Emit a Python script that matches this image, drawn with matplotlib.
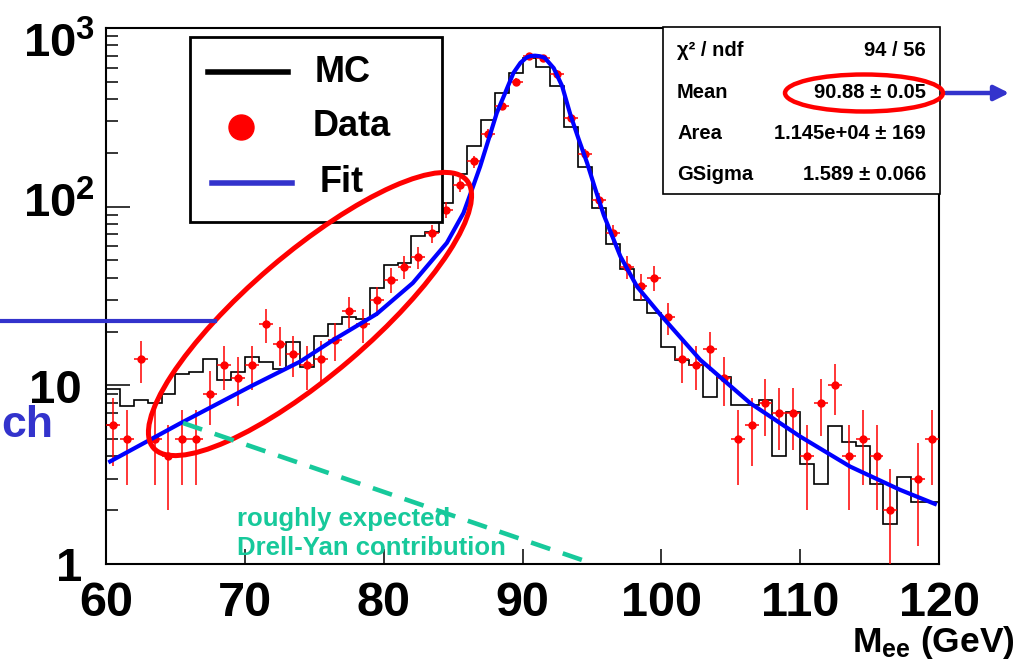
import numpy as np
import matplotlib
matplotlib.use("Agg")
import matplotlib.pyplot as plt
from matplotlib.patches import Rectangle, Ellipse
from matplotlib.lines import Line2D
from matplotlib.ticker import LogLocator, NullFormatter, FixedLocator
from matplotlib.transforms import IdentityTransform, blended_transform_factory, offset_copy

plt.rcParams['font.family'] = ['Liberation Sans', 'DejaVu Sans']
plt.rcParams['font.weight'] = 'bold'
plt.rcParams['mathtext.fontset'] = 'custom'
plt.rcParams['mathtext.rm'] = 'Liberation Sans:bold'
plt.rcParams['mathtext.bf'] = 'Liberation Sans:bold'
plt.rcParams['mathtext.it'] = 'Liberation Sans:bold:italic'

# ---------------- data ----------------
bin_low = 60
bin_high = 120
mc_counts = [9.6, 7.7, 8.3, 7.95, 8.9, 11.6, 11.9, 14.1, 10.7, 11.9,
             14.5, 13.5, 12.4, 17.5, 12.6, 18.8, 22.1, 24.1, 23.6, 35.1,
             47.3, 48.4, 68.8, 71.8, 105, 153, 218, 307, 433, 561,
             675, 606, 476, 280, 167, 98.4, 62.1, 45, 29.9, 25.4,
             16.4, 13.9, 13.0, 8.6, 11.2, 7.74, 7.74, 8.3, 4.0, 7.1,
             3.65, 2.8, 5.95, 4.8, 4.55, 2.8, 1.67, 3.07, 2.23, 2.23]
data_counts = [6, 5, 14, 5, 4, 5, 5, 9, 13, 11,
               13, 22, 17, 15, 13, 14, 18, 26, 22, 30,
               39, 46, 52, 71, 96, 133, 179, 255, 365, 500,
               695, 681, 556, 314, 196, 109, 71, 46, 36, 40,
               24, 14, 13, 16, 11, 5, 6, 8, 7, 7,
               4, 8, 10, 4, 5, 4, 2, 0, 3, 5]
fit_mass = [60.3, 65.3, 70.4, 74.0, 76.4, 79.5, 82.1, 84.55, 85.75, 86.35,
            86.95, 87.55, 88.15, 88.75, 89.35, 89.85, 90.3, 90.6, 90.9, 91.25,
            91.6, 92.25, 92.85, 93.45, 94.05, 94.65, 95.25, 95.85, 97.05, 98.25,
            100.0, 102.8, 106.4, 110.0, 113.6, 117.2, 119.7]
fit_value = [3.75, 6.1, 9.85, 13.6, 18.0, 25.1, 37.4, 62.7, 92.2, 124,
             168, 237, 335, 433, 561, 638, 685, 697, 700, 695,
             681, 596, 474, 327, 238, 176, 125, 90, 52.7, 35.7,
             24.5, 13.9, 7.95, 5.17, 3.51, 2.6, 2.17]
x_ticks = [60, 70, 80, 90, 100, 110, 120]
y_ticks = [1, 10, 100, 1000]
y_tick_labels = ['1', '10', r'$\mathbf{10^{2}}$', r'$\mathbf{10^{3}}$']
stats_names = ['χ² / ndf', 'Mean', 'Area', 'GSigma']
stats_values = ['94 / 56', '90.88 ± 0.05', '1.145e+04 ± 169', '1.589 ± 0.066']
legend_labels = ['MC', 'Data', 'Fit']

# ---------------- figure ----------------
W, H = 1018, 666
fig = plt.figure(figsize=(W / 100, H / 100), dpi=100)
ax = fig.add_axes([106 / W, 1 - 564 / H, (939 - 106) / W, (564 - 28) / H])
ax.set_yscale('log')
ax.set_xlim(bin_low, bin_high)
ax.set_ylim(1, 1000)

edges = np.arange(bin_low, bin_high + 1, 1.0)
centers = edges[:-1] + 0.5
mc = np.array(mc_counts, dtype=float)
dc = np.array(data_counts, dtype=float)

ax.stairs(mc, edges, color='black', lw=1.2, baseline=None, zorder=2)
m = dc > 0
ax.errorbar(centers[m], dc[m], yerr=np.sqrt(dc[m]), xerr=0.5, fmt='o', color='#ff0000',
            ms=5, elinewidth=1.1, capsize=0, zorder=3)
ax.plot(fit_mass, fit_value, color='#0000ff', lw=3.0, zorder=4, solid_joinstyle='round')

for s in ax.spines.values():
    s.set_linewidth(1.5)

ax.xaxis.set_major_locator(FixedLocator(x_ticks))
ax.set_xticklabels([str(t) for t in x_ticks])
ax.tick_params(axis='x', which='major', direction='in', length=10.8, width=1.1,
               labelsize=35, pad=12.5, top=False)
ax.tick_params(axis='x', which='minor', bottom=False, top=False)
ax.yaxis.set_major_locator(FixedLocator(y_ticks))
ax.yaxis.set_minor_locator(LogLocator(base=10, subs=range(2, 10)))
ax.yaxis.set_minor_formatter(NullFormatter())
ax.set_yticklabels(['' for _ in y_ticks])
ax.tick_params(axis='y', which='major', direction='in', length=17.3, width=1.1, right=False)
ax.tick_params(axis='y', which='minor', direction='in', length=8.6, width=1.1, right=False)

# y tick labels (ROOT-like placement)
blend = blended_transform_factory(ax.transAxes, ax.transData)
label_right = [-24, -24, -11, -11]
label_dy = [5, 5.5, -2, 16.5]
for val, lab, rx, dy in zip(y_ticks, y_tick_labels, label_right, label_dy):
    tr = offset_copy(blend, fig=fig, x=rx, y=-dy, units='dots')
    ax.text(0, val, lab, transform=tr, ha='right', va='center', fontsize=34,
            fontweight='bold', clip_on=False)

# helpers in image pixel coordinates (origin top-left)
ID = IdentityTransform()
def P(x, y):
    return (x, H - y)

# x axis label
fig.text(1015, H - 652, r'M$_{\mathrm{ee}}$ (GeV)', transform=ID, ha='right',
         va='baseline', fontsize=25.5, fontweight='bold')

# ---------------- legend box ----------------
fig.add_artist(Rectangle(P(190, 222), 252, 185, transform=ID, fc='white', ec='black',
                         lw=2.0, zorder=5))
fig.add_artist(Line2D([208, 288], [H - 72, H - 72], transform=ID, color='black', lw=4, zorder=6))
fig.add_artist(Line2D([241], [H - 127], transform=ID, marker='o', ms=18, color='#ff0000',
                      ls='none', zorder=6))
fig.add_artist(Line2D([212, 292], [H - 183, H - 183], transform=ID, color='#3333cc', lw=4, zorder=6))
for lab, lx, ly in zip(legend_labels, [315, 313, 320], [72, 127, 183]):
    fig.text(lx, H - ly, lab, transform=ID, ha='left', va='center', fontsize=26,
             fontweight='bold', zorder=7)

# ---------------- stats box ----------------
fig.add_artist(Rectangle(P(663, 194), 277, 167, transform=ID, fc='white', ec='black',
                         lw=1.2, zorder=5))
for i, (nm, vl) in enumerate(zip(stats_names, stats_values)):
    yy = 51 + i * 41.3
    fig.text(677, H - yy, nm, transform=ID, ha='left', va='center', fontsize=14.5,
             fontweight='bold', zorder=7)
    fig.text(926, H - yy, vl, transform=ID, ha='right', va='center', fontsize=14.5,
             fontweight='bold', zorder=7)

# ---------------- annotations ----------------
red = '#ff0000'
fig.add_artist(Ellipse(P(310, 314), 412, 122, angle=40.5, transform=ID, fill=False,
                       ec=red, lw=3.6, zorder=8))
fig.add_artist(Ellipse(P(864, 93), 158, 37, angle=0, transform=ID, fill=False,
                       ec=red, lw=3.2, zorder=8))
blue2 = '#3333cc'
fig.add_artist(Line2D([0, 215], [H - 321, H - 321], transform=ID, color=blue2, lw=3, zorder=8))
fig.text(1, H - 437, 'ch', transform=ID, ha='left', va='baseline', fontsize=32,
         fontweight='bold', color=blue2, zorder=8)
ax.annotate('', xy=P(1012, 93), xytext=P(943, 93), xycoords=ID, textcoords=ID,
            arrowprops=dict(arrowstyle='-|>', color=blue2, lw=3.2, mutation_scale=22),
            annotation_clip=False, zorder=8)
green = '#17c99b'
fig.add_artist(Line2D([183, 585], [H - 423, H - 561], transform=ID, color=green, lw=3.3,
                      ls=(0, (4.4, 2.9)), zorder=8))
fig.text(237, H - 519, 'roughly expected', transform=ID, ha='left', va='center',
         fontsize=18.5, fontweight='bold', color=green, zorder=8)
fig.text(237, H - 548, 'Drell-Yan contribution', transform=ID, ha='left', va='center',
         fontsize=18.5, fontweight='bold', color=green, zorder=8)

fig.savefig('out.png', dpi=100)
